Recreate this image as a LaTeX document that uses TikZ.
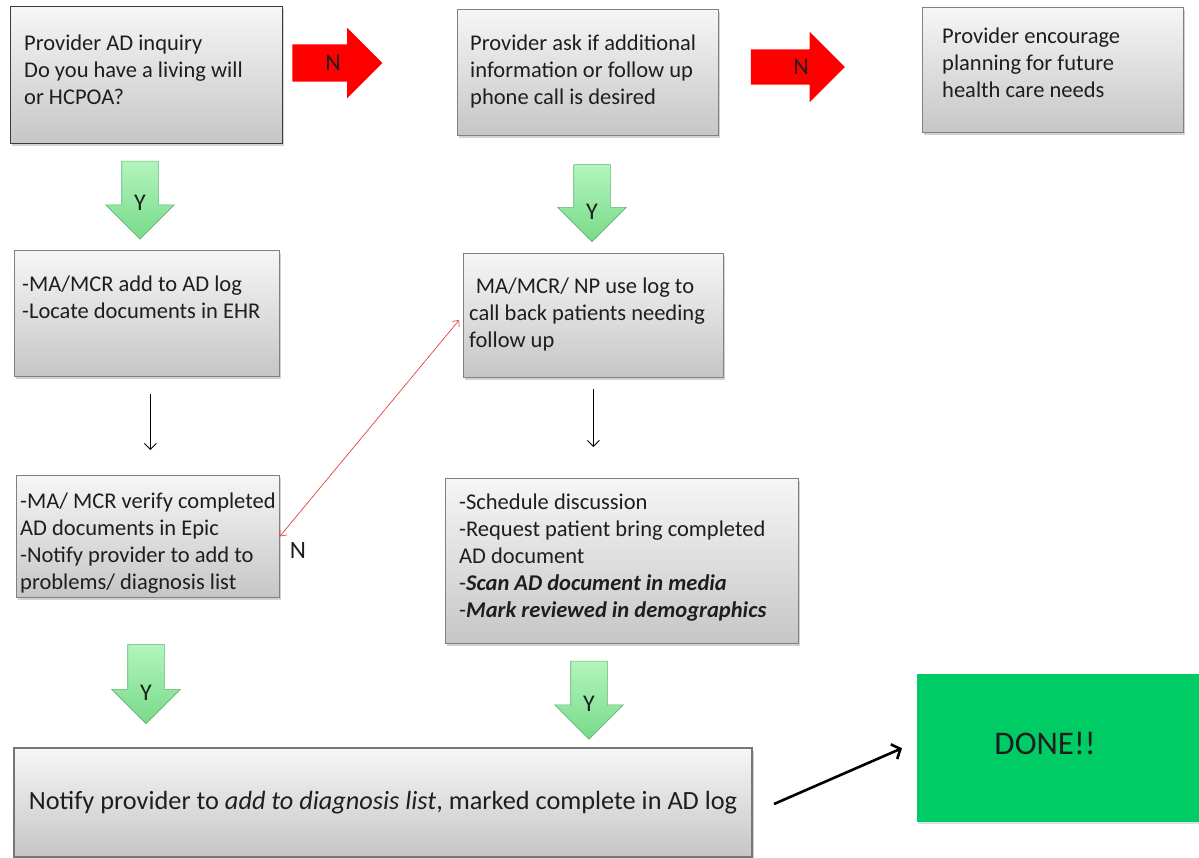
\documentclass[tikz,border=0pt]{standalone}
\usepackage{fontspec}
\setmainfont{Carlito}
\usetikzlibrary{arrows.meta,shapes.arrows,shadows}
\definecolor{boxtop}{RGB}{246,246,246}
\definecolor{boxbottom}{RGB}{198,198,198}
\definecolor{boxline}{RGB}{128,128,128}
\definecolor{askline}{RGB}{60,60,60}
\definecolor{notifyline}{RGB}{118,118,118}
\definecolor{noarrow}{RGB}{255,0,0}
\definecolor{yestop}{RGB}{178,245,188}
\definecolor{yesbottom}{RGB}{120,218,138}
\definecolor{yesline}{RGB}{95,180,110}
\definecolor{donegreen}{RGB}{0,204,102}
\definecolor{backline}{RGB}{232,64,64}
\definecolor{ink}{RGB}{30,30,30}
\tikzset{
  box/.style={draw=boxline, line width=0.8pt, top color=boxtop, bottom color=boxbottom,
    anchor=north west, text=ink,
    drop shadow={opacity=0.35, shadow xshift=1.5pt, shadow yshift=-2.5pt}},
  boxtext/.style={anchor=north west, inner sep=0pt, align=left, text=ink,
    font=\fontsize{22.5}{26.8}\selectfont},
  every label/.style={text=ink, font=\fontsize{24}{28}\selectfont, inner sep=0pt},
  noway/.style={single arrow, fill=noarrow, draw=none, single arrow tip angle=90},
  yesway/.style={single arrow, shape border rotate=270, draw=yesline, line width=0.6pt,
    top color=yestop, bottom color=yesbottom, inner sep=18pt,
    single arrow head extend=16pt, single arrow tip angle=90},
  thinarrow/.style={line width=0.9pt, -{Straight Barb[length=6pt,width=12pt]}},
  backarrow/.style={draw=backline, line width=0.7pt,
    {Straight Barb[length=5pt,width=9pt]}-{Straight Barb[length=5pt,width=9pt]}},
  donearrow/.style={line width=2.6pt, -{Straight Barb[length=7pt,width=16pt]}},
}

\begin{document}
\begin{tikzpicture}[x=1pt,y=-1pt]
\path[use as bounding box, fill=white] (0,0) rectangle (1199,858);

% top row
\node[box, draw=askline, line width=1.4pt, minimum width=272, minimum height=137] (inquiry) at (10,6) {};
\node[boxtext] (inquiry text) at (24,35) {Provider AD inquiry\\Do you have a living will\\or HCPOA?};
\node[box, minimum width=261, minimum height=126] (ask) at (457,9) {};
\node[boxtext] (ask text) at (470,35) {Provider ask if additional\\information or follow up\\phone call is desired};
\node[box, minimum width=261, minimum height=125] (encourage) at (922,7) {};
\node[boxtext] (encourage text) at (942,28) {Provider encourage\\planning for future\\health care needs};
\node[noway, inner sep=18.5pt, single arrow head extend=16.5pt, minimum height=90,
  label={[xshift=5pt]center:N}] (no1) at (328,63) {};
\node[noway, inner sep=17.5pt, single arrow head extend=17.5pt, minimum height=94,
  label={[xshift=12pt]center:N}] (no2) at (789,67) {};

% middle rows
\node[yesway, minimum height=78, label={[yshift=-12pt]center:Y}] (yes1) at (140,191) {};
\node[yesway, minimum height=77, label={[yshift=-18pt]center:Y}] (yes2) at (592,194) {};
\node[box, minimum width=265, minimum height=126] (collect) at (14,250) {};
\node[boxtext] (collect text) at (22,276) {-MA/MCR add to AD log\\-Locate documents in EHR};
\node[box, minimum width=260, minimum height=124] (callback) at (463,253) {};
\node[boxtext] (callback text) at (469,278) {\hspace*{0.3em}MA/MCR/ NP use log to\\call back patients needing\\follow up};
\node[box, minimum width=263, minimum height=122] (verify) at (16,475) {};
\node[boxtext] (verify text) at (20,493) {-MA/ MCR verify completed\\AD documents in Epic\\-Notify provider to add to\\problems/ diagnosis list};
\node[box, minimum width=353, minimum height=165] (schedule) at (445,478) {};
\node[boxtext] (schedule text) at (459,494) {-Schedule discussion\\-Request patient bring completed\\AD document\\-\textbf{\textit{Scan AD document in media}}\\-\textbf{\textit{Mark reviewed in demographics}}};
\draw[thinarrow] ([xshift=3.5pt,yshift=-17pt]collect.south) -- ([xshift=2.5pt,yshift=25pt]verify.north);
\draw[thinarrow, shorten <=11pt, shorten >=31pt] (callback.south) -- (callback.south |- schedule.north);
\draw[backarrow, shorten >=6pt] (verify.east) -- (callback.west);
\node[text=ink, font=\fontsize{25}{30}\selectfont] (no3) at (298,550) {N};

% bottom row
\node[yesway, minimum height=79, label={[yshift=-18pt]center:Y}] (yes3) at (146,675) {};
\node[yesway, minimum height=78, label={[yshift=-13pt]center:Y}] (yes4) at (589,691) {};
\node[box, draw=notifyline, line width=2pt, minimum width=738, minimum height=109,
  font=\fontsize{26.3}{30}\selectfont] (notify) at (13,747)
  {Notify provider to \textit{add to diagnosis list}, marked complete in AD log};
\node[fill=donegreen, anchor=north west, minimum width=290, minimum height=148,
  drop shadow={opacity=0.25, shadow xshift=1pt, shadow yshift=-2pt}] (done) at (917,674) {};
\node[text=ink, font=\fontsize{33}{38}\selectfont] (done text) at (1045,743) {DONE!!};
\draw[donearrow] ([xshift=21pt,yshift=-1.5pt]notify.east) -- ([xshift=-15pt]done.west);
\end{tikzpicture}
\end{document}
